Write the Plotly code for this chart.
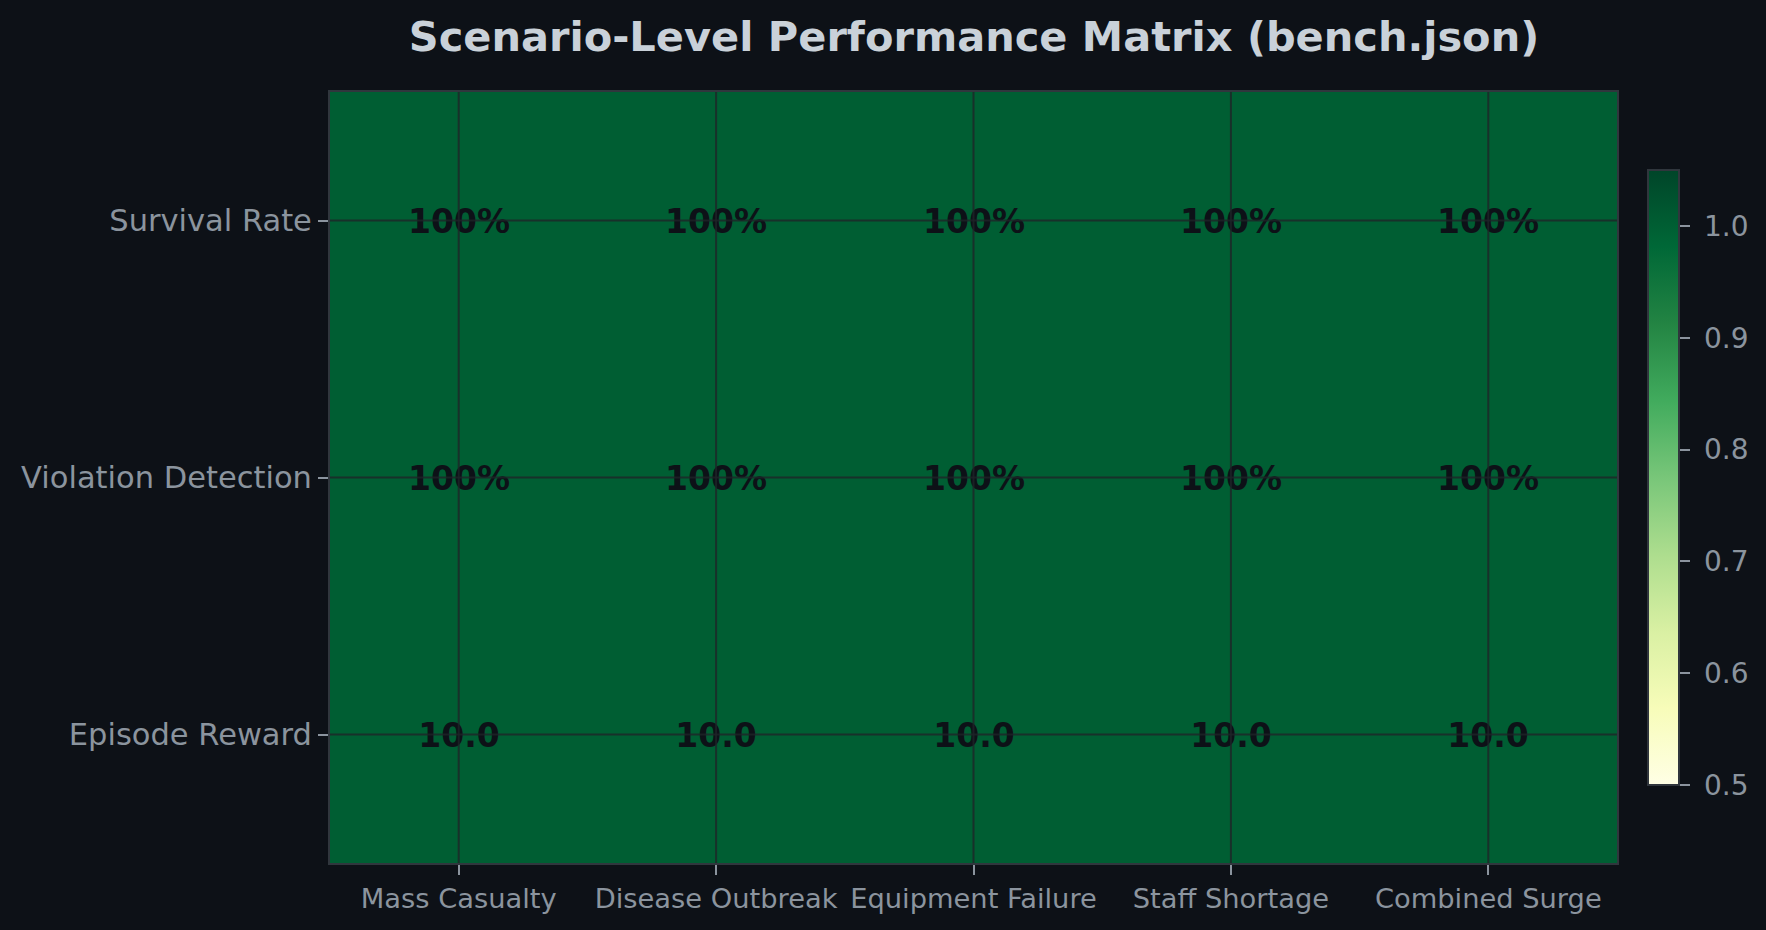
import plotly.graph_objects as go

# scenarios across the top, metrics down the side
scenarios = ["Mass Casualty", "Disease Outbreak", "Equipment Failure", "Staff Shortage", "Combined Surge"]
metrics = ["Survival Rate", "Violation Detection", "Episode Reward"]

survival_rate = [1.0, 1.0, 1.0, 1.0, 1.0]
violation_detection = [1.0, 1.0, 1.0, 1.0, 1.0]
episode_reward = [10.0, 10.0, 10.0, 10.0, 10.0]
reward_max = 10.0

colorbar_ticks = [0.5, 0.6, 0.7, 0.8, 0.9, 1.0]

BG = "#0d1117"
FRAME = "#30363d"
MUTED = "#8b949e"
TITLE = "#c9d1d9"

# colour uses normalised reward so all rows share the 0-1 scale
z = [survival_rate, violation_detection, [r / reward_max for r in episode_reward]]
labels = [
    ["%d%%" % round(v * 100) for v in survival_rate],
    ["%d%%" % round(v * 100) for v in violation_detection],
    ["%.1f" % v for v in episode_reward],
]

fig = go.Figure()
fig.add_trace(go.Heatmap(
    x=scenarios,
    y=metrics,
    z=z,
    text=labels,
    texttemplate="%{text}",
    textfont=dict(family="DejaVu Sans", size=33, color=BG, weight="bold"),
    colorscale="YlGn",
    zmin=0.5,
    zmax=1.05,
    hoverinfo="skip",
    colorbar=dict(
        x=1.024, xanchor="left", xpad=0,
        y=0.5, yanchor="middle", len=615, lenmode="pixels", ypad=0,
        thickness=31, thicknessmode="pixels",
        outlinecolor=FRAME, outlinewidth=2,
        tickvals=colorbar_ticks, ticktext=[" %.1f" % t for t in colorbar_ticks],
        ticks="outside", ticklen=10, tickcolor=MUTED, tickwidth=2,
        tickfont=dict(family="DejaVu Sans", size=28, color=MUTED),
    ),
))

# grid through the cell centres, drawn on top of the cells
for s in scenarios:
    fig.add_shape(type="line", xref="x", yref="y domain", x0=s, x1=s, y0=0, y1=1,
                  line=dict(color="rgba(30,36,40,0.8)", width=2))
for m in metrics:
    fig.add_shape(type="line", xref="x domain", yref="y", x0=0, x1=1, y0=m, y1=m,
                  line=dict(color="rgba(30,36,40,0.8)", width=2))

fig.update_layout(
    width=1766, height=930,
    paper_bgcolor=BG, plot_bgcolor=BG,
    margin=dict(l=330, r=149, t=92, b=67),
    title=dict(
        text="<b>Scenario-Level Performance Matrix (bench.json)</b>",
        x=0.5515, xanchor="center", y=0.961, yanchor="middle",
        font=dict(family="DejaVu Sans", size=41.5, color=TITLE),
    ),
)
fig.update_xaxes(
    showgrid=False, zeroline=False,
    showline=True, linecolor=FRAME, linewidth=2, mirror=True,
    ticks="outside", ticklen=10, tickwidth=2, tickcolor=MUTED,
    tickfont=dict(family="DejaVu Sans", size=27.3, color=MUTED),
)
fig.update_yaxes(
    showgrid=False, zeroline=False, autorange="reversed",
    showline=True, linecolor=FRAME, linewidth=2, mirror=True,
    ticks="outside", ticklen=10, tickwidth=2, tickcolor=MUTED,
    tickfont=dict(family="DejaVu Sans", size=30.5, color=MUTED),
)

# drop the page margin so the figure sits flush in the window
fig.write_html(
    "out.html",
    config={"displayModeBar": False},
    post_script="document.body.style.margin='0';document.body.style.background='%s';" % BG,
)
